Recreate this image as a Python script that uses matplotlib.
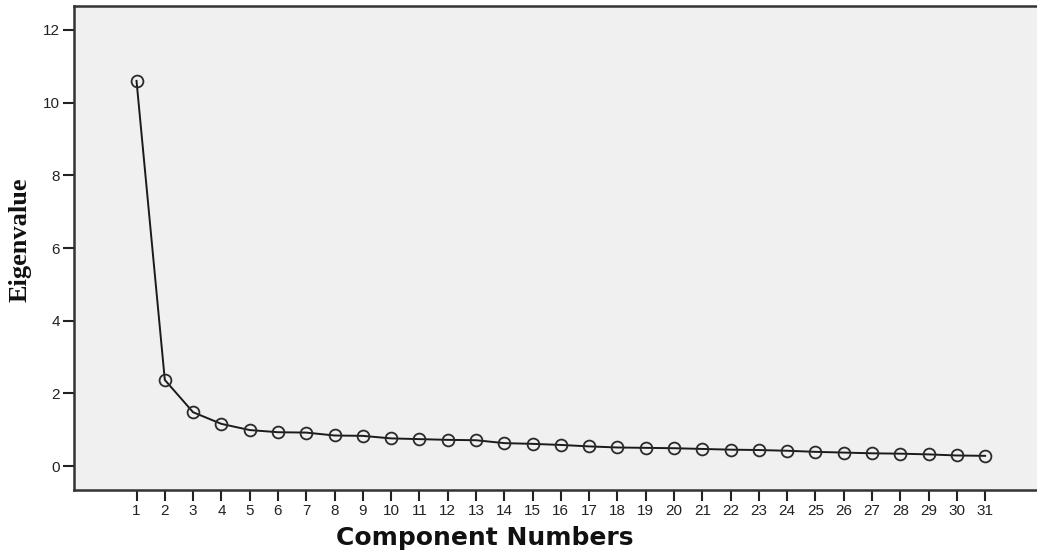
import matplotlib
matplotlib.use("Agg")
import matplotlib.pyplot as plt

components = list(range(1, 32))
eigenvalues = [10.60, 2.37, 1.48, 1.16, 0.99, 0.93, 0.92, 0.84, 0.83, 0.76,
               0.74, 0.72, 0.71, 0.63, 0.61, 0.58, 0.54, 0.51, 0.50, 0.49,
               0.47, 0.45, 0.44, 0.42, 0.39, 0.37, 0.35, 0.34, 0.32, 0.29,
               0.28]
y_ticks = [0, 2, 4, 6, 8, 10, 12]

fig = plt.figure(figsize=(10.37, 5.53), dpi=100)
ax = fig.add_axes([74 / 1037, 63 / 553, 1 - 74 / 1037 + 0.01, 484 / 553])
ax.set_facecolor('#f0f0f0')

ax.plot(components, eigenvalues, color='#1a1a1a', linewidth=1.4,
        marker='o', markersize=8.5, markerfacecolor='none',
        markeredgecolor='#2a2a2a', markeredgewidth=1.3)

ax.set_xlim(-1.21, 33.2)
ax.set_ylim(-0.66, 12.66)
ax.set_xticks(components)
ax.set_yticks(y_ticks)

for side in ['left', 'bottom', 'top']:
    ax.spines[side].set_color('#333333')
    ax.spines[side].set_linewidth(1.8)
ax.spines['right'].set_visible(False)

ax.tick_params(axis='both', labelsize=11, colors='#222222', width=1.5,
               length=8, pad=2)
for lbl in ax.get_xticklabels() + ax.get_yticklabels():
    lbl.set_fontfamily('Liberation Sans')

fig.text(20 / 1037, (553 - 240) / 553, 'Eigenvalue', rotation=90,
         ha='center', va='center', fontsize=19, fontweight='bold',
         fontfamily='Liberation Serif', color='#111111')
fig.text(485 / 1037, (553 - 538) / 553, 'Component Numbers',
         ha='center', va='center', fontsize=18, fontweight='bold',
         fontfamily='DejaVu Sans', color='#111111')

fig.savefig('out.png', dpi=100)
